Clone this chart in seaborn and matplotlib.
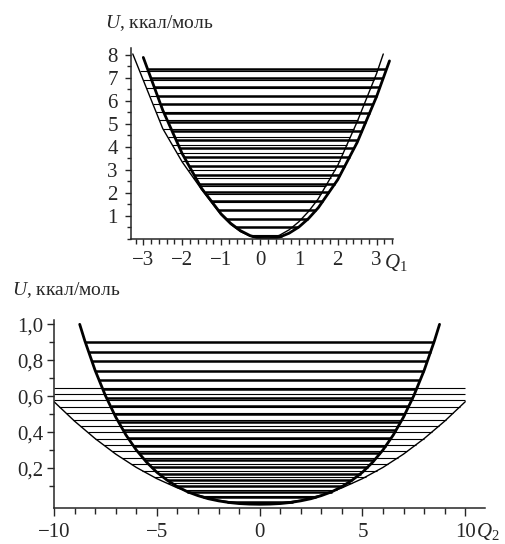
import numpy as np
import matplotlib
matplotlib.use("Agg")
import matplotlib.pyplot as plt
import seaborn as sns
from matplotlib.ticker import MultipleLocator

sns.set_style("ticks")
plt.rcParams['font.family'] = ['Liberation Serif', 'DejaVu Serif']
plt.rcParams['mathtext.fontset'] = 'custom'
plt.rcParams['mathtext.rm'] = 'Liberation Serif'
plt.rcParams['mathtext.it'] = 'Liberation Serif:italic'

# upper panel (Q1): two potential curves
q1_thin = [-3.27, -3.0, -2.5, -2.0, -1.5, -1.0, -0.75, -0.5, -0.25, 0.0, 0.25, 0.5, 0.75,
           1.0, 1.25, 1.5, 2.0, 2.5, 3.0, 3.17]
u1_thin = [8.04, 6.90, 4.80, 3.35, 2.15, 1.05, 0.63, 0.32, 0.12, 0.02, 0.04, 0.16, 0.40,
           0.75, 1.20, 1.75, 3.20, 5.10, 7.20, 8.04]
q1_thick = [-3.0, -2.5, -2.0, -1.5, -1.0, -0.75, -0.5, -0.25, 0.0, 0.25, 0.5, 0.75,
            1.0, 1.25, 1.5, 2.0, 2.5, 3.0, 3.33]
u1_thick = [7.89, 5.60, 3.71, 2.20, 1.09, 0.675, 0.36, 0.144, 0.025, 0.004, 0.08, 0.253,
            0.52, 0.893, 1.36, 2.58, 4.20, 6.20, 7.74]
lev1_thin = [0.18, 0.54, 0.89, 1.25, 1.60, 1.96, 2.31, 2.67, 3.02, 3.38, 3.73,
             4.09, 4.44, 4.80, 5.15, 5.51, 5.86, 6.22, 6.57, 6.93, 7.28]
lev1_thick = [0.12, 0.50, 0.88, 1.27, 1.65, 2.03, 2.41, 2.79, 3.18, 3.56,
              3.94, 4.32, 4.70, 5.09, 5.47, 5.85, 6.23, 6.61, 7.00, 7.38]

# lower panel (Q2)
q2_thin = [-10, -9, -8, -7, -6, -5, -4, -3, -2, -1, 0, 1, 2, 3, 4, 5, 6, 7, 8, 9, 10]
u2_thin = [0.570, 0.462, 0.365, 0.279, 0.205, 0.1425, 0.091, 0.051, 0.023, 0.006, 0.0,
           0.006, 0.023, 0.051, 0.091, 0.1425, 0.205, 0.279, 0.365, 0.462, 0.570]
q2_thick = [-8.75, -8.5, -8.0, -7.5, -7.0, -6.5, -6.0, -5.5, -5.0, -4.5, -4.0, -3.5, -3.0,
            -2.5, -2.0, -1.5, -1.0, -0.5, 0.0, 0.5, 1.0, 1.5, 2.0, 2.5, 3.0, 3.5, 4.0,
            4.5, 5.0, 5.5, 6.0, 6.5, 7.0, 7.5, 8.0, 8.5, 8.75]
u2_thick = [1.0, 0.908, 0.744, 0.604, 0.485, 0.385, 0.302, 0.234, 0.178, 0.134, 0.098, 0.069, 0.048,
            0.031, 0.019, 0.010, 0.004, 0.001, 0.0, 0.001, 0.004, 0.010, 0.019, 0.031, 0.048, 0.069, 0.098,
            0.134, 0.178, 0.234, 0.302, 0.385, 0.485, 0.604, 0.744, 0.908, 1.0]
lev2_thin = [0.010, 0.045, 0.081, 0.116, 0.152, 0.187, 0.223, 0.258, 0.294, 0.329,
             0.365, 0.400, 0.436, 0.471, 0.507, 0.542, 0.577, 0.613, 0.648]
lev2_thick = [0.012, 0.040, 0.071, 0.102, 0.135, 0.170, 0.207, 0.245, 0.284, 0.325,
              0.367, 0.410, 0.455, 0.500, 0.545, 0.592, 0.640, 0.690, 0.742, 0.796,
              0.848, 0.903]

W, H = 505, 544


def ends(levels, q, u):
    q = np.asarray(q, float)
    u = np.asarray(u, float)
    i = int(np.argmin(u))
    left = np.interp(levels, u[:i + 1][::-1], q[:i + 1][::-1])
    right = np.interp(levels, u[i:], q[i:])
    return left, right


def panel(ax, qa, ua, qb, ub, la, lb):
    l, r = ends(la, qa, ua)
    ax.hlines(la, l, r, color='black', lw=0.8)
    l, r = ends(lb, qb, ub)
    ax.hlines(lb, l, r, color='black', lw=1.8)
    sns.lineplot(x=qa, y=ua, ax=ax, color='black', lw=1.0, estimator=None, sort=False)
    sns.lineplot(x=qb, y=ub, ax=ax, color='black', lw=2.0, estimator=None, sort=False)
    sns.despine(ax=ax)
    for s in ('left', 'bottom'):
        ax.spines[s].set_linewidth(1.1)
    ax.set_xlabel('')
    ax.set_ylabel('')


fig = plt.figure(figsize=(W / 100, H / 100), dpi=100)

ax1 = fig.add_axes([131 / W, 1 - 239 / H, 262 / W, 191 / H])
panel(ax1, q1_thin, u1_thin, q1_thick, u1_thick, lev1_thin, lev1_thick)
ax1.set_xlim(-3.316, 3.42)
ax1.set_ylim(0, 8.3)
ax1.set_xticks([-3, -2, -1, 0, 1, 2, 3])
ax1.set_xticklabels(['\u22123', '\u22122', '\u22121', '0', '1', '2', '3'])
ax1.xaxis.set_minor_locator(MultipleLocator(0.2))
ax1.set_yticks([1, 2, 3, 4, 5, 6, 7, 8])
ax1.set_yticklabels([str(v) for v in range(1, 9)])
ax1.yaxis.set_minor_locator(MultipleLocator(0.5))
ax1.tick_params(axis='x', which='major', length=4.5, width=1, pad=4, labelsize=15, direction='out')
ax1.tick_params(axis='x', which='minor', length=3.5, width=1, direction='out')
ax1.tick_params(axis='y', which='major', length=4.5, width=1, pad=5, labelsize=15, direction='out')
ax1.tick_params(axis='y', which='minor', length=3, width=1, direction='out')

ax2 = fig.add_axes([54 / W, 1 - 507.7 / H, 431 / W, 187.7 / H])
panel(ax2, q2_thin, u2_thin, q2_thick, u2_thick, lev2_thin, lev2_thick)
ax2.set_xlim(-10, 10.96)
ax2.set_ylim(-0.019, 1.024)
ax2.set_xticks([-10, -5, 0, 5, 10])
ax2.set_xticklabels(['\u221210', '\u22125', '0', '5', '10'])
ax2.xaxis.set_minor_locator(MultipleLocator(1))
ax2.set_yticks([0.2, 0.4, 0.6, 0.8, 1.0])
ax2.set_yticklabels(['0,2', '0,4', '0,6', '0,8', '1,0'])
ax2.set_yticks([0.1, 0.3, 0.5, 0.7, 0.9], minor=True)
ax2.tick_params(axis='x', which='major', length=6, width=1, pad=5, labelsize=15, direction='out')
ax2.tick_params(axis='x', which='minor', length=4.5, width=1, direction='out')
ax2.tick_params(axis='y', which='major', length=5, width=1, pad=2.5, labelsize=15, direction='out')
ax2.tick_params(axis='y', which='minor', length=3.5, width=1, direction='out')

fig.text(105 / W, 1 - 28 / H, '$U$, ккал/моль', fontsize=14, va='baseline', ha='left')
fig.text(12 / W, 1 - 295 / H, '$U$, ккал/моль', fontsize=14, va='baseline', ha='left')
fig.text(384 / W, 1 - 268 / H, '$Q_1$', fontsize=15, va='baseline', ha='left')
fig.text(476 / W, 1 - 537 / H, '$Q_2$', fontsize=15, va='baseline', ha='left')

fig.savefig('out.png', dpi=100)
